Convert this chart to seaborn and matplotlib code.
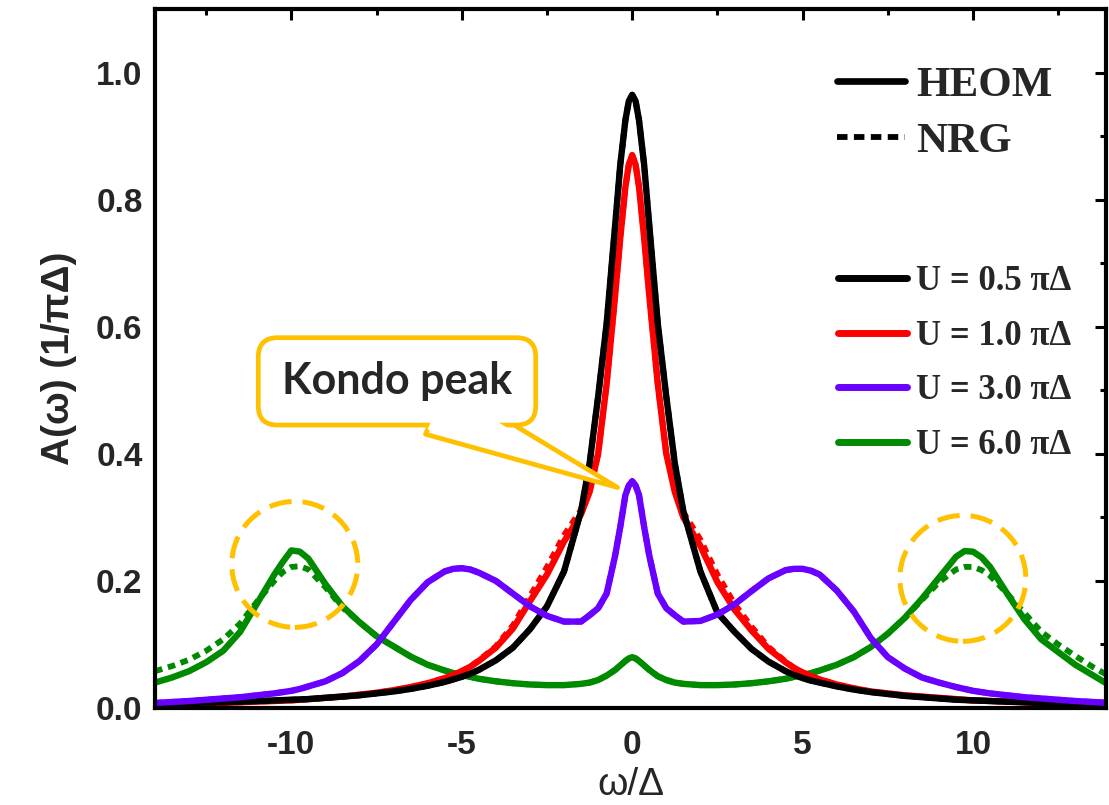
import matplotlib
matplotlib.use("Agg")
import matplotlib.pyplot as plt
import seaborn as sns
import pandas as pd
import numpy as np
from matplotlib.lines import Line2D
from matplotlib.patches import Ellipse
from matplotlib.ticker import MultipleLocator

# ---------------- data ----------------
omega = [-14, -13.5, -13, -12.5, -12, -11.5, -11, -10.5, -10.25, -10, -9.75, -9.5, -9, -8.5, -8,
         -7.5, -7, -6.5, -6, -5.5, -5.25, -5, -4.75, -4.5, -4, -3.5, -3, -2.5, -2, -1.5, -1.25,
         -1, -0.75, -0.5, -0.35, -0.2, -0.1, 0,
         0.1, 0.2, 0.35, 0.5, 0.75, 1, 1.25, 1.5, 2, 2.5, 3, 3.5, 4, 4.5, 4.75, 5, 5.25, 5.5,
         6, 6.5, 7, 7.5, 8, 8.5, 9, 9.5, 9.75, 10, 10.25, 10.5, 11, 11.5, 12, 12.5, 13, 13.5, 14]

heom_u05 = [0.007, 0.0075, 0.008, 0.0085, 0.009, 0.010, 0.011, 0.012, 0.0125, 0.013, 0.0135, 0.014,
            0.016, 0.018, 0.020, 0.023, 0.026, 0.030, 0.035, 0.041, 0.045, 0.049, 0.054, 0.060,
            0.075, 0.095, 0.124, 0.160, 0.215, 0.310, 0.385, 0.490, 0.605, 0.760, 0.855, 0.925,
            0.955, 0.965,
            0.955, 0.925, 0.855, 0.760, 0.605, 0.490, 0.385, 0.310, 0.215, 0.150, 0.120, 0.093,
            0.073, 0.058, 0.052, 0.047, 0.043, 0.040, 0.034, 0.029, 0.025, 0.022, 0.019, 0.017,
            0.015, 0.013, 0.0125, 0.012, 0.0115, 0.011, 0.010, 0.009, 0.008, 0.0075, 0.007,
            0.0065, 0.006]

heom_u10 = [0.006, 0.0065, 0.007, 0.0075, 0.008, 0.009, 0.010, 0.011, 0.0115, 0.012, 0.013, 0.014,
            0.016, 0.018, 0.021, 0.024, 0.028, 0.033, 0.039, 0.047, 0.052, 0.058, 0.065, 0.074,
            0.095, 0.125, 0.168, 0.210, 0.262, 0.305, 0.340, 0.400, 0.510, 0.650, 0.740, 0.820,
            0.855, 0.870,
            0.855, 0.820, 0.740, 0.650, 0.510, 0.400, 0.340, 0.300, 0.255, 0.198, 0.155, 0.122,
            0.093, 0.072, 0.063, 0.056, 0.050, 0.045, 0.037, 0.031, 0.026, 0.023, 0.020, 0.018,
            0.016, 0.014, 0.013, 0.012, 0.0115, 0.011, 0.010, 0.009, 0.008, 0.0075, 0.007,
            0.0065, 0.006]

nrg_u10 = [0.006, 0.0065, 0.007, 0.0075, 0.008, 0.009, 0.010, 0.011, 0.0115, 0.012, 0.013, 0.014,
           0.016, 0.018, 0.021, 0.024, 0.028, 0.033, 0.039, 0.047, 0.052, 0.058, 0.065, 0.075,
           0.097, 0.130, 0.176, 0.222, 0.272, 0.312, 0.342, 0.400, 0.510, 0.650, 0.740, 0.820,
           0.855, 0.870,
           0.855, 0.820, 0.740, 0.650, 0.510, 0.400, 0.342, 0.308, 0.265, 0.210, 0.164, 0.128,
           0.096, 0.073, 0.063, 0.056, 0.050, 0.045, 0.037, 0.031, 0.026, 0.023, 0.020, 0.018,
           0.016, 0.014, 0.013, 0.012, 0.0115, 0.011, 0.010, 0.009, 0.008, 0.0075, 0.007,
           0.0065, 0.006]

heom_u30 = [0.008, 0.0095, 0.011, 0.013, 0.015, 0.017, 0.020, 0.023, 0.025, 0.027, 0.030, 0.034,
            0.042, 0.055, 0.074, 0.100, 0.135, 0.170, 0.198, 0.215, 0.219, 0.220, 0.218, 0.213,
            0.200, 0.180, 0.160, 0.145, 0.136, 0.136, 0.146, 0.157, 0.180, 0.240, 0.285, 0.335,
            0.350, 0.357,
            0.350, 0.335, 0.285, 0.240, 0.180, 0.157, 0.146, 0.136, 0.137, 0.147, 0.163, 0.184,
            0.204, 0.217, 0.219, 0.219, 0.216, 0.210, 0.185, 0.152, 0.110, 0.080, 0.062, 0.048,
            0.040, 0.033, 0.030, 0.027, 0.025, 0.023, 0.020, 0.017, 0.015, 0.013, 0.011,
            0.0095, 0.008]

heom_u60 = [0.040, 0.048, 0.058, 0.072, 0.090, 0.120, 0.165, 0.210, 0.230, 0.248, 0.246, 0.235,
            0.195, 0.160, 0.135, 0.113, 0.097, 0.081, 0.068, 0.059, 0.055, 0.052, 0.049, 0.046,
            0.042, 0.039, 0.037, 0.036, 0.036, 0.038, 0.040, 0.044, 0.051, 0.060, 0.067, 0.074,
            0.078, 0.080,
            0.078, 0.074, 0.067, 0.060, 0.050, 0.044, 0.040, 0.038, 0.036, 0.036, 0.037, 0.039,
            0.042, 0.046, 0.049, 0.052, 0.055, 0.059, 0.068, 0.080, 0.096, 0.117, 0.142, 0.172,
            0.205, 0.238, 0.247, 0.246, 0.237, 0.222, 0.180, 0.140, 0.108, 0.088, 0.068,
            0.052, 0.036]

nrg_u60 = [0.058, 0.066, 0.076, 0.090, 0.108, 0.133, 0.168, 0.200, 0.214, 0.222, 0.223, 0.218,
           0.190, 0.158, 0.135, 0.113, 0.097, 0.081, 0.068, 0.059, 0.055, 0.052, 0.049, 0.046,
           0.042, 0.039, 0.037, 0.036, 0.036, 0.038, 0.040, 0.044, 0.051, 0.060, 0.067, 0.074,
           0.078, 0.080,
           0.078, 0.074, 0.067, 0.060, 0.050, 0.044, 0.040, 0.038, 0.036, 0.036, 0.037, 0.039,
           0.042, 0.046, 0.049, 0.052, 0.055, 0.059, 0.068, 0.080, 0.096, 0.117, 0.142, 0.170,
           0.198, 0.218, 0.222, 0.222, 0.217, 0.208, 0.180, 0.150, 0.120, 0.100, 0.082,
           0.065, 0.050]

nrg_u05 = heom_u05
nrg_u30 = heom_u30

u_labels = ["U = 0.5 \u03c0\u0394", "U = 1.0 \u03c0\u0394", "U = 3.0 \u03c0\u0394", "U = 6.0 \u03c0\u0394"]
method_labels = ["HEOM", "NRG"]
x_ticks = [-10, -5, 0, 5, 10]
y_ticks = [0.0, 0.2, 0.4, 0.6, 0.8, 1.0]

colors = {u_labels[0]: "#000000", u_labels[1]: "#FF0000",
          u_labels[2]: "#6A00FF", u_labels[3]: "#008A00"}

# ---------------- figure ----------------
sns.set_style("white")
plt.rcParams["font.family"] = ["Liberation Sans", "DejaVu Sans"]

W, H = 1109, 805
fig = plt.figure(figsize=(W / 100, H / 100), dpi=100)
ax = fig.add_axes([155 / W, 1 - 708 / H, (1106 - 155) / W, (708 - 9) / H])

dash = (0, (1.3, 1.0))
series = [
    (heom_u60, nrg_u60, u_labels[3]),
    (heom_u10, nrg_u10, u_labels[1]),
    (heom_u05, nrg_u05, u_labels[0]),
    (heom_u30, nrg_u30, u_labels[2]),
]
for heom, nrg, lab in series:
    c = colors[lab]
    sns.lineplot(x=omega, y=nrg, ax=ax, color=c, lw=4.2, linestyle=dash,
                 estimator=None, sort=False, legend=False)
    sns.lineplot(x=omega, y=heom, ax=ax, color=c, lw=4.6, linestyle="-",
                 estimator=None, sort=False, legend=False)

ax.set_xlim(-14.0, 13.9)
ax.set_ylim(0, 1.1)
ax.set_xticks(x_ticks)
ax.set_xticklabels([str(t) for t in x_ticks])
ax.set_yticks(y_ticks)
ax.set_yticklabels([f"{t:.1f}" for t in y_ticks])
ax.xaxis.set_minor_locator(MultipleLocator(2.5))
ax.yaxis.set_minor_locator(MultipleLocator(0.1))
ax.tick_params(which="both", direction="in", top=True, right=True, width=2.2, color="black")
ax.tick_params(which="major", length=8)
ax.tick_params(which="minor", length=4.5)
ax.tick_params(axis="x", which="major", pad=16, labelsize=24)
ax.tick_params(axis="y", which="major", pad=9, labelsize=24)
for lab in ax.get_xticklabels() + ax.get_yticklabels():
    lab.set_fontweight("bold")
for sp in ax.spines.values():
    sp.set_linewidth(3.0)
    sp.set_color("black")

ax.set_xlabel("\u03c9/\u0394", fontsize=28, labelpad=4)
ax.set_ylabel("A(\u03c9) (1/\u03c0\u0394)", fontsize=28, fontweight="bold", labelpad=14)

# legends
serif = {"family": "Liberation Serif", "weight": "bold", "size": 31}
h1 = [Line2D([], [], color="black", lw=4.8, linestyle="-"),
      Line2D([], [], color="black", lw=4.2, linestyle=(0, (1.8, 1.1)))]
leg1 = ax.legend(h1, method_labels, loc="upper left", bbox_to_anchor=(837 / W, 1 - 66 / H),
                 bbox_transform=fig.transFigure, frameon=False, prop=serif,
                 handlelength=1.58, handletextpad=0.26, labelspacing=0.38,
                 borderpad=0, borderaxespad=0)
ax.add_artist(leg1)

serif2 = {"family": "Liberation Serif", "weight": "bold", "size": 25}
h2 = [Line2D([], [], color=colors[l], lw=5.0) for l in u_labels]
leg2 = ax.legend(h2, u_labels, loc="upper left", bbox_to_anchor=(838 / W, 1 - 265 / H),
                 bbox_transform=fig.transFigure, frameon=False, prop=serif2,
                 handlelength=2.0, handletextpad=0.26, labelspacing=0.625,
                 borderpad=0, borderaxespad=0)

# dashed circles around the Hubbard peaks
orange = "#FFC000"
for cx, cy in [(-9.9, 0.226), (9.7, 0.204)]:
    ax.add_patch(Ellipse((cx, cy), width=2 * 63 / 34.1, height=2 * 63 / 636,
                         fill=False, ec=orange, lw=3.6, ls=(0, (4.5, 2.2)), zorder=6))

# Kondo peak callout (open speech-bubble tail)
tip = (-0.43, 0.347)
tail = (-5.75, 0.47)
ax.annotate("", xy=tip, xytext=tail, zorder=6,
            arrowprops=dict(arrowstyle="wedge,tail_width=1.3", mutation_scale=30,
                            fc="white", ec=orange, lw=3.4, shrinkA=0, shrinkB=0))
ax.text(-6.9, 0.514, "Kondo peak", ha="center", va="center", fontsize=31,
        fontweight="bold", family="Lato", zorder=7,
        bbox=dict(boxstyle="round,pad=0.55,rounding_size=0.45", fc="white", ec=orange, lw=3.4))
ax.annotate("", xy=tip, xytext=tail, zorder=8,
            arrowprops=dict(arrowstyle="wedge,tail_width=1.05", mutation_scale=30,
                            fc="white", ec="none", lw=0, shrinkA=0, shrinkB=35))

fig.savefig("out.png", dpi=100)
